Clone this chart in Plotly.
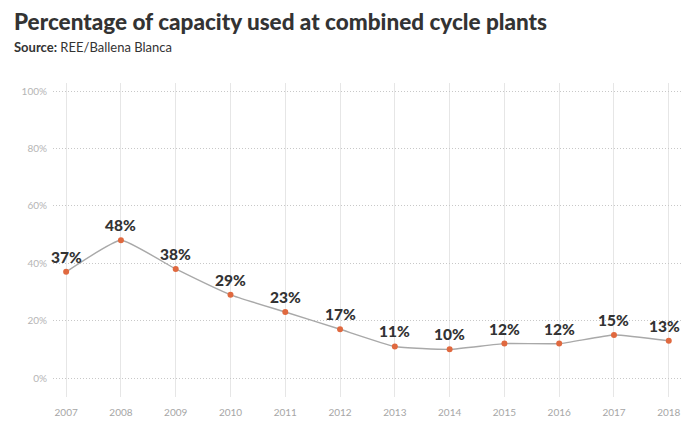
import plotly.graph_objects as go

years = [2007, 2008, 2009, 2010, 2011, 2012, 2013, 2014, 2015, 2016, 2017, 2018]
capacity_pct = [37, 48, 38, 29, 23, 17, 11, 10, 12, 12, 15, 13]
y_ticks = [0, 20, 40, 60, 80, 100]
y_tick_text = ["0%", "20%", "40%", "60%", "80%", "100%"]

FONT = "Lato, Open Sans, sans-serif"

fig = go.Figure()
fig.add_trace(go.Scatter(
    x=years,
    y=capacity_pct,
    mode="lines+markers",
    line=dict(color="#a9a9a9", width=1.4, shape="spline", smoothing=0.4),
    marker=dict(color="#e0693f", size=6),
    cliponaxis=False,
    hoverinfo="skip",
))

# value labels above each point; the last one nudged left to stay inside the page
value_labels = [
    dict(text=f"{v}%", x=yr, y=v, xref="x", yref="y",
         xanchor="center", yanchor="bottom", yshift=4,
         xshift=-4 if i == len(years) - 1 else 0,
         showarrow=False,
         font=dict(family=FONT, size=15.5, color="#333333", weight=900))
    for i, (yr, v) in enumerate(zip(years, capacity_pct))
]

fig.update_layout(
    width=683,
    height=421,
    margin=dict(l=53, r=0, t=83, b=24),
    paper_bgcolor="white",
    plot_bgcolor="white",
    showlegend=False,
    annotations=[
        dict(text="Percentage of capacity used at combined cycle plants",
             xref="paper", yref="paper", x=(12 - 53) / 630, y=1 + 61 / 314,
             xanchor="left", yanchor="middle", showarrow=False,
             font=dict(family=FONT, size=22.5, color="#333333", weight=900)),
        dict(text="<b>Source:</b> REE/Ballena Blanca",
             xref="paper", yref="paper", x=(12 - 53) / 630, y=1 + 36 / 314,
             xanchor="left", yanchor="middle", showarrow=False,
             font=dict(family=FONT, size=13, color="#333333")),
    ] + value_labels,
)

fig.update_xaxes(
    range=[2006.76, 2018.26],
    tickvals=years,
    ticktext=[str(y) for y in years],
    showgrid=True,
    gridcolor="#e6e6e6",
    gridwidth=1,
    zeroline=False,
    showline=False,
    ticks="",
    tickfont=dict(family=FONT, size=10, color="#a6a6a6"),
    ticklabelstandoff=8,
    fixedrange=True,
)

fig.update_yaxes(
    range=[-6.6, 102.8],
    tickvals=y_ticks,
    ticktext=y_tick_text,
    showgrid=True,
    gridcolor="#c8c8c8",
    gridwidth=1,
    griddash="1px,2px",
    zeroline=False,
    showline=False,
    ticks="",
    tickfont=dict(family=FONT, size=10, color="#b5b5b5"),
    ticklabelstandoff=5,
    fixedrange=True,
)

fig.write_html("out.html")
